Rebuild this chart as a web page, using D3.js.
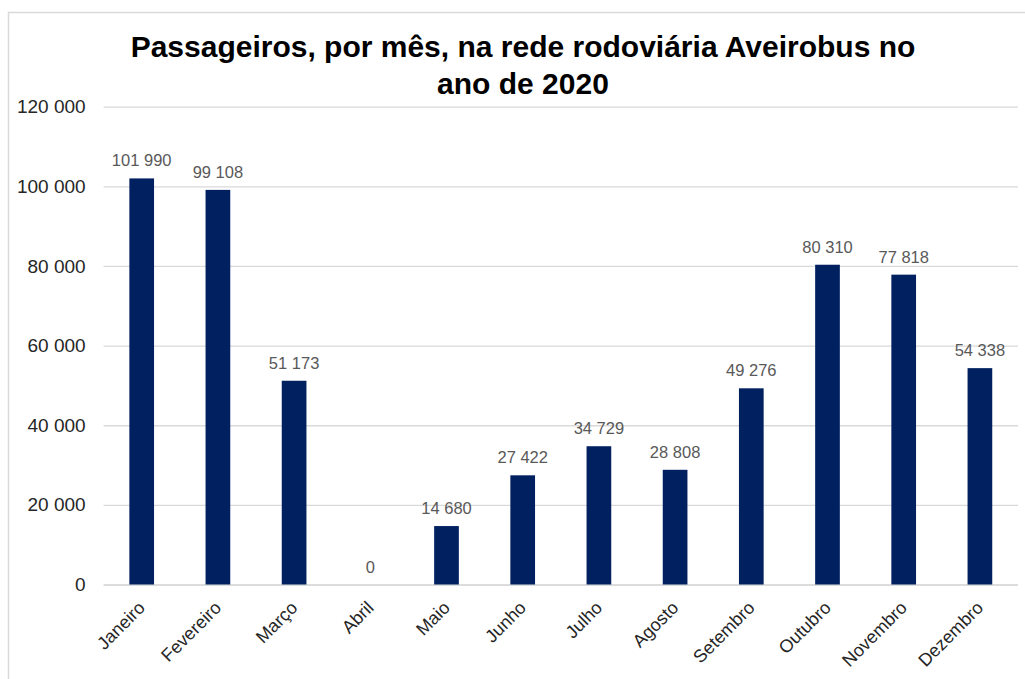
<!DOCTYPE html>
<html>
<head>
<meta charset="utf-8">
<script src="https://cdn.jsdelivr.net/npm/d3@7"></script>
<style>
  html, body { margin: 0; padding: 0; background: #ffffff; }
  svg { display: block; font-family: "Liberation Sans", Arial, sans-serif; }
</style>
</head>
<body>
<svg id="chart" width="1025" height="679"></svg>
<script>
const titleLines = ["Passageiros, por mês, na rede rodoviária Aveirobus no", "ano de 2020"];
const months = ["Janeiro", "Fevereiro", "Março", "Abril", "Maio", "Junho", "Julho", "Agosto", "Setembro", "Outubro", "Novembro", "Dezembro"];
const passengers = [101990, 99108, 51173, 0, 14680, 27422, 34729, 28808, 49276, 80310, 77818, 54338];
const yTicks = [0, 20000, 40000, 60000, 80000, 100000, 120000];

const W = 1025, H = 679;
const plot = { left: 103.6, right: 1018, top: 106.7, bottom: 584.5 };

const locale = d3.formatLocale({ decimal: ",", thousands: "\u00a0", grouping: [3], currency: ["", "€"] });
const fmt = locale.format(",d");

const svg = d3.select("#chart");

// outer chart border (extends past the visible window on right and bottom)
svg.append("rect")
  .attr("x", 8.5).attr("y", 12.5)
  .attr("width", 1100).attr("height", 1000)
  .attr("fill", "#ffffff")
  .attr("stroke", "#d9d9d9").attr("stroke-width", 1.5);

const x = d3.scaleBand()
  .domain(months)
  .range([plot.left, plot.right])
  .paddingInner(0.676)
  .paddingOuter(0.338);

const y = d3.scaleLinear()
  .domain([0, 120000])
  .range([plot.bottom, plot.top]);

// gridlines
const yAxis = d3.axisLeft(y)
  .tickValues(yTicks)
  .tickSize(-(plot.right - plot.left))
  .tickPadding(18)
  .tickFormat(d => fmt(d));

const gy = svg.append("g")
  .attr("transform", `translate(${plot.left},0)`)
  .call(yAxis);
gy.select(".domain").remove();
gy.selectAll(".tick line")
  .attr("stroke", d => d === 0 ? "#d0d0d0" : "#d9d9d9")
  .attr("stroke-width", 1.3);
gy.selectAll(".tick text")
  .attr("fill", "#262626")
  .attr("font-size", "19px")
  .attr("font-family", "Liberation Sans, Arial, sans-serif");

// bars
svg.append("g").selectAll("rect")
  .data(months.map((m, i) => ({ m, v: passengers[i] })))
  .join("rect")
  .attr("x", d => x(d.m))
  .attr("y", d => y(d.v))
  .attr("width", x.bandwidth())
  .attr("height", d => y(0) - y(d.v))
  .attr("fill", "#002060");

// value labels
svg.append("g").selectAll("text")
  .data(months.map((m, i) => ({ m, v: passengers[i] })))
  .join("text")
  .attr("x", d => x(d.m) + x.bandwidth() / 2)
  .attr("y", d => y(d.v) - 12)
  .attr("text-anchor", "middle")
  .attr("fill", "#595959")
  .attr("font-size", "16.5px")
  .text(d => fmt(d.v));

// category labels (rotated)
const xAxis = d3.axisBottom(x).tickSize(0).tickPadding(0);
const gx = svg.append("g")
  .attr("transform", `translate(0,${plot.bottom})`)
  .call(xAxis);
gx.select(".domain").remove();
gx.selectAll(".tick text")
  .attr("font-size", "18px")
  .attr("font-family", "Liberation Sans, Arial, sans-serif")
  .attr("fill", "#262626")
  .attr("text-anchor", "end")
  .attr("y", 0)
  .attr("dy", "0.35em")
  .attr("transform", "translate(0,20) rotate(-45)");

// title
svg.append("g").selectAll("text")
  .data(titleLines)
  .join("text")
  .attr("x", 523)
  .attr("y", (d, i) => 57 + i * 37)
  .attr("text-anchor", "middle")
  .attr("font-weight", "bold")
  .attr("font-size", "30px")
  .attr("fill", "#000000")
  .text(d => d);
</script>
</body>
</html>
